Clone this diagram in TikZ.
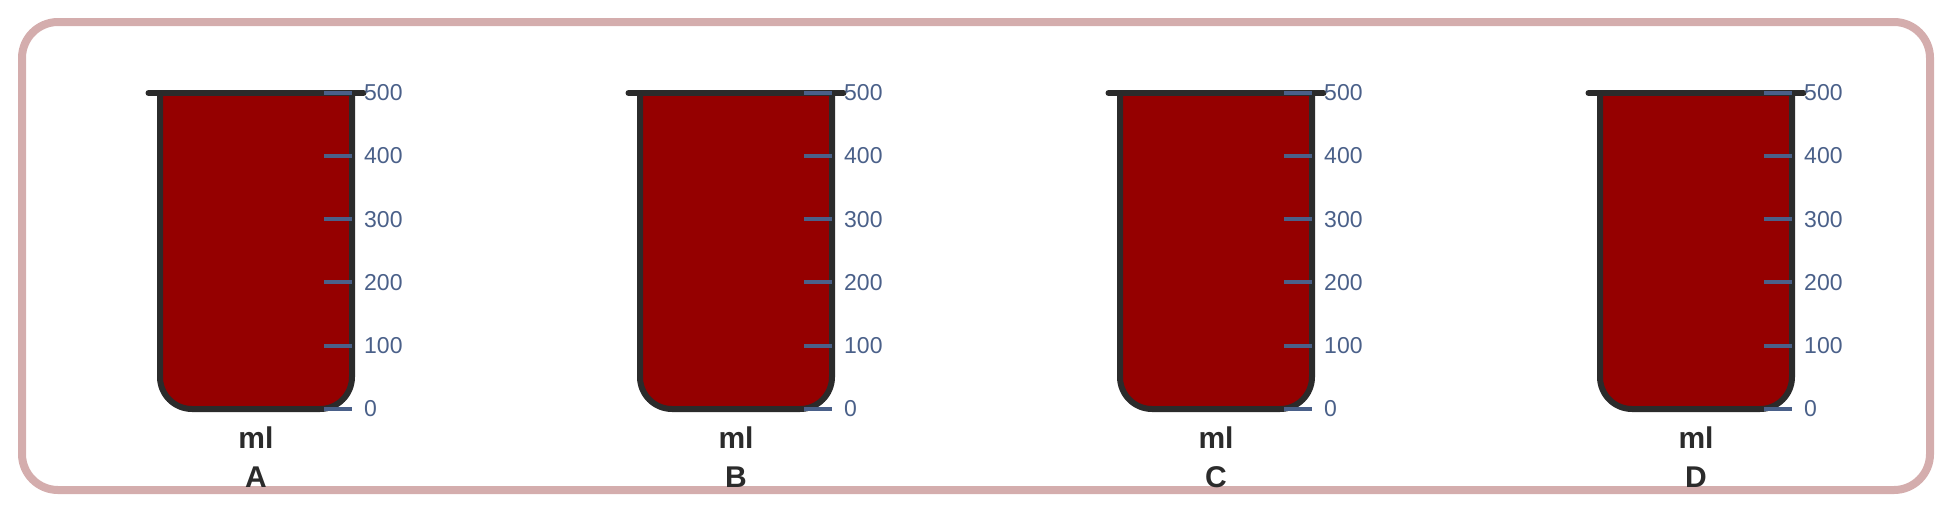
\documentclass[tikz,border=0pt]{standalone}
\usepackage{fontspec}
\setmainfont{Liberation Sans}
\definecolor{framecol}{HTML}{D4ADAD}
\definecolor{liquid}{HTML}{950000}
\definecolor{glass}{HTML}{2B2B2B}
\definecolor{tickcol}{HTML}{4A6089}
\definecolor{labeltext}{HTML}{2B2B2B}
\tikzset{
  framebox/.style={draw=framecol, line width=8pt, rounded corners=36pt},
  beakerbody/.style={draw=glass, fill=liquid, line width=6pt, rounded corners=32pt},
  beakerrim/.style={draw=glass, line width=6pt, line cap=round},
  tickline/.style={draw=tickcol, line width=4pt},
  ticklabel/.style={anchor=west, inner sep=0pt, text=tickcol, font=\fontsize{23}{23}\selectfont},
  unitlabel/.style={anchor=base, inner sep=0pt, text=labeltext, font=\bfseries\fontsize{30}{30}\selectfont},
}
\begin{document}
\begin{tikzpicture}[x=1pt,y=-1pt]
\useasboundingbox (0,0) rectangle (1952,512);
\draw[framebox] (22,22) rectangle (1930,490);
\foreach \cx/\lab in {256/A,736/B,1216/C,1696/D} {
  \begin{scope}[xshift=\cx pt]
    \path[beakerbody] (-96,93) -- (-96,409) -- (96,409) -- (96,93);
    \path[beakerrim] (-107.5,93) -- (107.5,93);
    \foreach \i in {0,...,5} {
      \pgfmathsetmacro{\ty}{409-63.26*\i}
      \path[tickline] (68,\ty) -- (96,\ty);
      \ifnum\i=0
        \node[ticklabel] (t\lab\i) at (108,\ty) {0};
      \else
        \node[ticklabel] (t\lab\i) at (108,\ty) {\i00};
      \fi
    }
    \node[unitlabel] (ml\lab) at (0,448) {ml};
    \node[unitlabel] (name\lab) at (0,487.5) {\lab};
  \end{scope}
}
\end{tikzpicture}
\end{document}
